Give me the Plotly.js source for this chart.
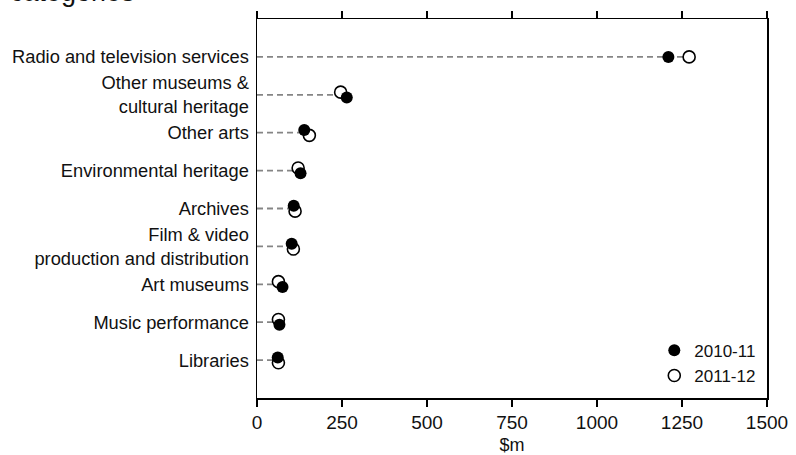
<!DOCTYPE html>
<html>
<head>
<meta charset="utf-8">
<script src="https://cdn.plot.ly/plotly-3.0.1.min.js"></script>
<style>
  html, body { margin: 0; padding: 0; background: #ffffff; }
  #chart { width: 796px; height: 455px; }
</style>
</head>
<body>
<div id="chart"></div>
<script>
// ---- data ----
const categories = [
  "Radio and television services",
  "Other museums &<br>cultural heritage",
  "Other arts",
  "Environmental heritage",
  "Archives",
  "Film & video<br>production and distribution",
  "Art museums",
  "Music performance",
  "Libraries"
];
const values2010_11 = [1210, 264, 139, 128, 108, 102, 75, 66, 61];
const values2011_12 = [1271, 246, 154, 121, 112, 107, 63, 63, 63];
const seriesNames = ["2010-11", "2011-12"];
const xTickValues = [0, 250, 500, 750, 1000, 1250, 1500];
const xTickLabels = ["0", "250", "500", "750", "1000", "1250", "1500"];
const xAxisTitle = "$m";
const chartTitle = "categories";

// ---- derived positions ----
const FONT = "'Liberation Sans', Arial, sans-serif";
const TEXT = "#111111";
const catIndex = categories.map((c, i) => i);
// when two markers overlap, the smaller value sits slightly higher (as in the reference)
const overlapLimit = 40, nudge = 0.07;
function nudgeFor(a, b) {
  if (Math.abs(a - b) >= overlapLimit || a === b) return 0;
  return a > b ? nudge : -nudge;
}
const y2010 = catIndex.map(i => i + nudgeFor(values2010_11[i], values2011_12[i]));
const y2011 = catIndex.map(i => i + nudgeFor(values2011_12[i], values2010_11[i]));

// dashed guide lines from 0 to the larger value of each category
const guideX = [], guideY = [];
catIndex.forEach(i => {
  guideX.push(0, Math.max(values2010_11[i], values2011_12[i]), null);
  guideY.push(i, i, null);
});

const traces = [
  {
    x: guideX, y: guideY, type: "scatter", mode: "lines",
    line: { color: "#858585", width: 1.8, dash: "6px,4px" },
    hoverinfo: "skip", showlegend: false
  },
  {
    x: values2011_12, y: y2011, type: "scatter", mode: "markers",
    name: seriesNames[1], legendrank: 2,
    marker: { symbol: "circle", size: 12, color: "#ffffff", line: { color: "#000000", width: 1.6 } }
  },
  {
    x: values2010_11, y: y2010, type: "scatter", mode: "markers",
    name: seriesNames[0], legendrank: 1,
    marker: { symbol: "circle", size: 12, color: "#000000", line: { color: "#000000", width: 0 } }
  }
];

const layout = {
  width: 796, height: 455,
  margin: { l: 257, r: 29, t: 19, b: 57, pad: 0 },
  paper_bgcolor: "#ffffff", plot_bgcolor: "#ffffff",
  font: { family: FONT, color: TEXT, size: 18 },
  showlegend: true,
  legend: {
    x: 0.779, y: 0.172, xanchor: "left", yanchor: "top",
    bgcolor: "rgba(0,0,0,0)", borderwidth: 0,
    font: { family: FONT, size: 17, color: TEXT },
    tracegroupgap: 0
  },
  xaxis: {
    range: [0, 1500], tickmode: "array", tickvals: xTickValues, ticktext: xTickLabels,
    ticks: "outside", ticklen: 7, tickwidth: 1.5, tickcolor: "#000000",
    showline: true, linecolor: "#000000", linewidth: 1.5, mirror: "ticks",
    showgrid: false, zeroline: false,
    tickfont: { family: FONT, size: 19, color: TEXT },
    title: { text: xAxisTitle, font: { family: FONT, size: 18, color: TEXT }, standoff: 11 }
  },
  yaxis: {
    range: [9, -1], tickmode: "array", tickvals: catIndex, ticktext: categories,
    ticks: "", showline: true, linecolor: "#000000", linewidth: 1.5, mirror: true,
    showgrid: false, zeroline: false, ticklabelstandoff: 3,
    tickfont: { family: FONT, size: 18.3, color: TEXT }
  },
  annotations: [
    {
      text: chartTitle, xref: "paper", yref: "paper",
      x: (8 - 257) / 510, y: 1.027, xanchor: "left", yanchor: "bottom",
      showarrow: false, font: { family: FONT, size: 27, color: TEXT }
    }
  ]
};

Plotly.newPlot("chart", traces, layout, { displayModeBar: false, staticPlot: true });
</script>
</body>
</html>
